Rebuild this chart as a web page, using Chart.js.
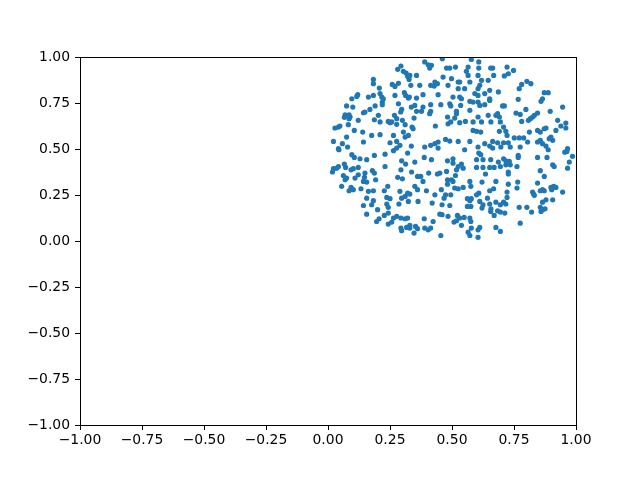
<!DOCTYPE html>
<html>
<head>
<meta charset="utf-8">
<script src="https://cdn.jsdelivr.net/npm/chart.js@4.4.1/dist/chart.umd.min.js"></script>
<style>
  html, body { margin: 0; padding: 0; background: #fff; }
  #wrap { width: 640px; height: 478px; }
</style>
</head>
<body>
<div id="wrap"><canvas id="chart" width="640" height="478"></canvas></div>
<script>
// scatter points, [x, y]
const points = [
  [0.294,0.951],[0.281,0.933],[0.304,0.922],[0.315,0.913],[0.321,0.895],[0.327,0.878],[0.183,0.878],[0.183,0.855],
  [0.259,0.851],[0.270,0.840],[0.284,0.857],[0.207,0.831],[0.120,0.795],[0.116,0.786],[0.096,0.773],[0.163,0.782],
  [0.183,0.791],[0.210,0.801],[0.217,0.782],[0.223,0.773],[0.270,0.791],[0.308,0.806],[0.313,0.791],[0.324,0.777],
  [0.219,0.755],[0.219,0.741],[0.284,0.746],[0.297,0.715],[0.293,0.701],[0.190,0.734],[0.169,0.715],[0.100,0.728],
  [0.075,0.734],[0.149,0.701],[0.143,0.697],[0.069,0.686],[0.066,0.672],[0.085,0.686],[0.089,0.674],[0.085,0.665],
  [0.122,0.656],[0.203,0.683],[0.210,0.647],[0.187,0.659],[0.268,0.683],[0.277,0.665],[0.243,0.650],[0.250,0.643],
  [0.257,0.647],[0.277,0.634],[0.300,0.656],[0.311,0.632],[0.048,0.625],[0.042,0.619],[0.028,0.614],[0.082,0.632],
  [0.106,0.601],[0.140,0.592],[0.176,0.574],[0.210,0.578],[0.264,0.574],[0.304,0.592],[0.311,0.565],[0.324,0.574],
  [0.022,0.541],[0.075,0.565],[0.058,0.529],[0.079,0.511],[0.143,0.538],[0.250,0.534],[0.277,0.541],[0.290,0.520],
  [0.277,0.505],[0.042,0.502],
  [0.461,0.991],[0.578,0.987],[0.390,0.973],[0.404,0.958],[0.417,0.955],[0.410,0.940],[0.478,0.940],[0.491,0.940],
  [0.514,0.945],[0.565,0.945],[0.608,0.973],[0.608,0.940],[0.656,0.940],[0.558,0.922],[0.565,0.900],[0.605,0.900],
  [0.330,0.900],[0.357,0.900],[0.464,0.891],[0.498,0.882],[0.431,0.864],[0.441,0.855],[0.525,0.864],[0.531,0.864],
  [0.572,0.864],[0.619,0.873],[0.612,0.846],[0.646,0.873],[0.334,0.846],[0.370,0.846],[0.414,0.846],[0.428,0.842],
  [0.484,0.846],[0.525,0.828],[0.551,0.828],[0.605,0.828],[0.652,0.819],[0.328,0.782],[0.357,0.777],[0.383,0.795],
  [0.444,0.795],[0.504,0.782],[0.531,0.782],[0.538,0.773],[0.592,0.801],[0.605,0.791],[0.632,0.801],[0.652,0.773],
  [0.350,0.737],[0.383,0.728],[0.414,0.741],[0.455,0.741],[0.491,0.746],[0.495,0.734],[0.535,0.737],[0.572,0.759],
  [0.585,0.755],[0.605,0.755],[0.612,0.737],[0.632,0.741],[0.652,0.764],[0.336,0.728],[0.357,0.705],[0.377,0.705],
  [0.410,0.692],[0.414,0.705],[0.518,0.705],[0.572,0.710],[0.347,0.668],[0.482,0.674],[0.518,0.692],[0.511,0.668],
  [0.605,0.674],[0.646,0.683],[0.484,0.637],[0.495,0.647],[0.531,0.643],[0.554,0.650],[0.585,0.647],[0.619,0.647],
  [0.433,0.625],[0.339,0.619],[0.343,0.610],[0.585,0.601],[0.599,0.596],[0.616,0.592],[0.474,0.552],[0.491,0.543],
  [0.525,0.541],[0.572,0.541],[0.444,0.538],[0.431,0.529],[0.414,0.520],[0.390,0.511],[0.336,0.516],[0.605,0.511],
  [0.632,0.529],[0.652,0.516],
  [0.664,0.940],[0.668,0.900],[0.722,0.945],[0.727,0.909],[0.711,0.897],[0.748,0.927],[0.687,0.810],[0.771,0.828],
  [0.781,0.851],[0.802,0.868],[0.818,0.855],[0.767,0.770],[0.859,0.759],[0.865,0.773],[0.872,0.806],[0.888,0.806],
  [0.711,0.734],[0.704,0.734],[0.946,0.728],[0.798,0.715],[0.896,0.705],[0.758,0.695],[0.775,0.688],[0.684,0.692],
  [0.677,0.683],[0.691,0.674],[0.832,0.683],[0.825,0.674],[0.816,0.665],[0.808,0.656],[0.781,0.650],[0.845,0.695],
  [0.926,0.656],[0.959,0.641],[0.959,0.614],[0.657,0.647],[0.695,0.647],[0.708,0.619],[0.691,0.596],[0.717,0.596],
  [0.722,0.574],[0.751,0.560],[0.771,0.560],[0.812,0.592],[0.845,0.601],[0.856,0.592],[0.872,0.610],[0.879,0.614],
  [0.919,0.601],[0.939,0.625],[0.899,0.565],[0.892,0.556],[0.906,0.547],[0.789,0.560],[0.805,0.538],[0.845,0.538],
  [0.856,0.547],[0.865,0.529],[0.879,0.516],[0.664,0.541],[0.684,0.534],[0.708,0.534],[0.727,0.534],[0.697,0.511],
  [0.735,0.511],[0.775,0.511],[0.966,0.502],[0.664,0.505],
  [0.044,0.496],[0.096,0.469],[0.106,0.454],[0.129,0.447],[0.156,0.442],[0.187,0.465],[0.230,0.472],[0.264,0.491],
  [0.321,0.478],[0.297,0.436],[0.313,0.418],[0.230,0.405],[0.294,0.387],[0.337,0.375],[0.042,0.405],[0.066,0.418],
  [0.071,0.400],[0.022,0.393],[0.018,0.375],[0.035,0.396],[0.093,0.387],[0.102,0.393],[0.122,0.400],[0.122,0.360],
  [0.109,0.342],[0.149,0.369],[0.147,0.346],[0.179,0.382],[0.187,0.369],[0.192,0.333],[0.062,0.356],[0.069,0.333],
  [0.075,0.342],[0.143,0.324],[0.156,0.320],[0.055,0.297],[0.093,0.291],[0.085,0.273],[0.102,0.279],[0.133,0.284],
  [0.163,0.270],[0.183,0.273],[0.227,0.273],[0.241,0.297],[0.281,0.346],[0.300,0.338],[0.290,0.270],[0.321,0.260],
  [0.311,0.242],[0.297,0.233],[0.156,0.233],[0.183,0.219],[0.237,0.237],[0.250,0.230],[0.176,0.197],[0.143,0.193],
  [0.237,0.201],[0.243,0.183],[0.200,0.170],[0.286,0.201],[0.324,0.215],[0.156,0.146],[0.243,0.152],[0.227,0.139],
  [0.206,0.121],[0.196,0.106],[0.264,0.125],[0.277,0.134],[0.294,0.125],[0.311,0.121],[0.321,0.125],[0.243,0.092],
  [0.257,0.103],[0.294,0.070],[0.297,0.056],[0.317,0.074],
  [0.444,0.505],[0.551,0.496],[0.608,0.478],[0.616,0.469],[0.350,0.429],[0.417,0.442],[0.388,0.454],[0.482,0.436],
  [0.504,0.447],[0.504,0.423],[0.538,0.418],[0.525,0.405],[0.518,0.387],[0.545,0.396],[0.599,0.442],[0.625,0.442],
  [0.656,0.442],[0.599,0.400],[0.625,0.400],[0.652,0.400],[0.635,0.364],[0.361,0.351],[0.374,0.351],[0.406,0.369],
  [0.441,0.364],[0.451,0.369],[0.478,0.378],[0.514,0.356],[0.498,0.333],[0.482,0.333],[0.504,0.324],[0.482,0.309],
  [0.383,0.324],[0.572,0.324],[0.621,0.320],[0.350,0.297],[0.361,0.279],[0.397,0.273],[0.431,0.251],[0.457,0.279],
  [0.511,0.288],[0.525,0.284],[0.545,0.291],[0.576,0.297],[0.330,0.255],[0.474,0.251],[0.468,0.233],[0.495,0.251],
  [0.608,0.260],[0.599,0.251],[0.652,0.273],[0.643,0.233],[0.562,0.230],[0.578,0.230],[0.572,0.219],[0.612,0.215],
  [0.562,0.188],[0.576,0.188],[0.625,0.197],[0.621,0.179],[0.652,0.201],[0.656,0.161],[0.363,0.215],[0.420,0.206],
  [0.460,0.197],[0.491,0.193],[0.451,0.146],[0.460,0.143],[0.484,0.134],[0.522,0.139],[0.531,0.125],[0.518,0.110],
  [0.508,0.103],[0.549,0.128],[0.572,0.125],[0.576,0.106],[0.538,0.085],[0.578,0.070],[0.612,0.074],[0.605,0.061],
  [0.565,0.048],[0.572,0.030],[0.605,0.020],[0.330,0.085],[0.353,0.079],[0.361,0.067],[0.388,0.121],[0.390,0.070],
  [0.404,0.061],[0.414,0.070],[0.424,0.106],[0.330,0.070],[0.347,0.043],[0.455,0.030],
  [0.888,0.496],[0.767,0.465],[0.767,0.454],[0.708,0.447],[0.717,0.436],[0.731,0.433],[0.687,0.429],[0.670,0.400],
  [0.695,0.405],[0.717,0.414],[0.735,0.414],[0.762,0.405],[0.845,0.454],[0.883,0.454],[0.955,0.483],[0.963,0.487],
  [0.986,0.460],[0.973,0.429],[0.966,0.396],[0.906,0.414],[0.912,0.405],[0.856,0.382],[0.727,0.375],[0.727,0.364],
  [0.872,0.351],[0.677,0.324],[0.727,0.309],[0.765,0.320],[0.845,0.315],[0.668,0.284],[0.762,0.288],[0.722,0.266],
  [0.825,0.266],[0.829,0.255],[0.832,0.248],[0.856,0.273],[0.865,0.279],[0.872,0.273],[0.899,0.291],[0.910,0.297],
  [0.919,0.291],[0.902,0.279],[0.946,0.266],[0.722,0.237],[0.677,0.211],[0.708,0.211],[0.695,0.197],[0.717,0.201],
  [0.865,0.211],[0.879,0.224],[0.906,0.224],[0.657,0.175],[0.684,0.164],[0.695,0.157],[0.713,0.152],[0.771,0.183],
  [0.802,0.183],[0.821,0.157],[0.856,0.183],[0.865,0.170],[0.875,0.175],[0.859,0.161],[0.670,0.139],[0.775,0.097],
  [0.677,0.074],[0.695,0.052]
];

const xTicks = [-1, -0.75, -0.5, -0.25, 0, 0.25, 0.5, 0.75, 1];
const yTicks = [-1, -0.75, -0.5, -0.25, 0, 0.25, 0.5, 0.75, 1];

const fmt = v => v.toFixed(2).replace('-', '\u2212');

// matplotlib style frame on all four sides
const frame = {
  id: 'frame',
  afterDatasetsDraw(chart) {
    const a = chart.chartArea, ctx = chart.ctx;
    ctx.save();
    ctx.strokeStyle = '#000';
    ctx.lineWidth = 1;
    ctx.strokeRect(Math.round(a.left) + 0.5, Math.round(a.top) + 0.5,
      Math.round(a.right - a.left), Math.round(a.bottom - a.top));
    ctx.restore();
  }
};

const tickFont = { family: 'DejaVu Sans', size: 13.9 };

new Chart(document.getElementById('chart'), {
  type: 'scatter',
  data: {
    datasets: [{
      data: points.map(p => ({ x: p[0], y: p[1] })),
      backgroundColor: '#1f77b4',
      borderWidth: 0,
      pointRadius: 2.6,
      pointHoverRadius: 2.6
    }]
  },
  options: {
    responsive: false,
    animation: false,
    layout: { padding: { left: 0, right: 64, top: 57, bottom: 0 } },
    plugins: { legend: { display: false }, tooltip: { enabled: false } },
    scales: {
      x: {
        type: 'linear', min: -1, max: 1,
        afterBuildTicks: s => { s.ticks = xTicks.map(v => ({ value: v })); },
        afterFit: s => { s.height = 53; },
        grid: { display: true, drawOnChartArea: false, tickLength: 5, color: '#000' },
        border: { display: true, color: '#000' },
        ticks: { color: '#000', font: tickFont, padding: 2, maxRotation: 0, callback: v => fmt(v) }
      },
      y: {
        type: 'linear', min: -1, max: 1,
        afterBuildTicks: s => { s.ticks = yTicks.map(v => ({ value: v })); },
        afterFit: s => { s.width = 80; },
        grid: { display: true, drawOnChartArea: false, tickLength: 5, color: '#000' },
        border: { display: true, color: '#000' },
        ticks: { color: '#000', font: tickFont, padding: 5, callback: v => fmt(v) }
      }
    }
  },
  plugins: [frame]
});
</script>
</body>
</html>
